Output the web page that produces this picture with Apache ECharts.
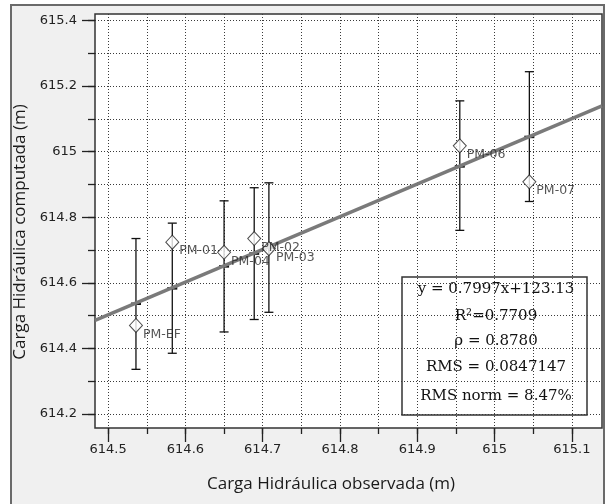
<!DOCTYPE html>
<html>
<head>
<meta charset="utf-8">
<script src="https://cdn.jsdelivr.net/npm/echarts@6/dist/echarts.min.js"></script>
<style>
  html, body { margin: 0; padding: 0; background: #ffffff; }
  #chart { width: 609px; height: 504px; }
</style>
</head>
<body>
<div id="chart"></div>
<script>
// 观测水头 vs 计算水头，带误差棒和 1:1 线

const wells = ['PM-EF', 'PM-01', 'PM-04', 'PM-02', 'PM-03', 'PM-06', 'PM-07'];
const observed = [614.536, 614.583, 614.650, 614.689, 614.708, 614.955, 615.045];
const computed = [614.470, 614.724, 614.693, 614.735, 614.704, 615.018, 614.908];
const errLow = [614.336, 614.385, 614.450, 614.488, 614.510, 614.760, 614.848];
const errHigh = [614.735, 614.782, 614.850, 614.890, 614.905, 615.155, 615.244];

// 1:1 线两端
const lineX = [614.483, 615.139];
const lineY = [614.485, 615.140];

// 刻度
const xMajor = [614.5, 614.6, 614.7, 614.8, 614.9, 615, 615.1];
const xMinor = [614.5, 614.55, 614.6, 614.65, 614.7, 614.75, 614.8, 614.85, 614.9, 614.95, 615, 615.05, 615.1];
const yMajor = [614.2, 614.4, 614.6, 614.8, 615, 615.2, 615.4];
const yMinor = [614.2, 614.3, 614.4, 614.5, 614.6, 614.7, 614.8, 614.9, 615, 615.1, 615.2, 615.3, 615.4];

const statsLines = [
    'y = 0.7997x+123.13',
    'R\u00B2=0.7709',
    '\u03C1 = 0.8780',
    'RMS = 0.0847147',
    'RMS norm = 8.47%'
];

const xMin = 614.483, xMax = 615.139;
const yMin = 614.157, yMax = 615.420;

function initChart() {
    const chart = echarts.init(document.getElementById('chart'));

    const gridLine = { color: '#3a3a3a', width: 1, type: [1, 2] };
    const labelStyle = { color: '#222', fontFamily: 'DejaVu Sans', fontSize: 13 };
    const titleStyle = { color: '#1a1a1a', fontFamily: 'Open Sans', fontSize: 17 };

    const errData = observed.map(function (x, i) {
        return [x, errLow[i], errHigh[i], observed[i]];
    });
    const pointData = observed.map(function (x, i) {
        return { name: wells[i], value: [x, computed[i]] };
    });

    const statsTexts = statsLines.map(function (t, i) {
        const ys = [289, 316, 341, 367, 396];
        return {
            type: 'text',
            x: 496,
            y: ys[i],
            style: {
                text: t,
                fill: '#111',
                font: '15px "DejaVu Serif"',
                textAlign: 'center',
                textVerticalAlign: 'middle'
            }
        };
    });

    const option = {
        backgroundColor: '#ffffff',
        animation: false,
        graphic: [
            {
                type: 'rect',
                z: -10,
                shape: { x: 11, y: 5, width: 593, height: 510 },
                style: { fill: '#f0f0f0', stroke: '#6a6a6a', lineWidth: 2 }
            },
            {
                type: 'group',
                z: 100,
                children: [
                    {
                        type: 'rect',
                        shape: { x: 402, y: 277, width: 185, height: 138 },
                        style: { fill: '#ffffff', stroke: '#333', lineWidth: 1.5 }
                    }
                ].concat(statsTexts)
            }
        ],
        grid: {
            left: 95,
            top: 14,
            width: 507,
            height: 414,
            show: true,
            backgroundColor: '#ffffff',
            borderColor: '#333',
            borderWidth: 1.5
        },
        xAxis: [
            {
                type: 'value',
                min: xMin,
                max: xMax,
                position: 'bottom',
                name: 'Carga Hidráulica observada (m)',
                nameLocation: 'middle',
                nameGap: 48,
                nameTextStyle: Object.assign({ padding: [0, 35, 0, 0] }, titleStyle),
                axisLine: { show: false },
                axisTick: { show: true, length: 14, customValues: xMajor, lineStyle: { color: '#222', width: 1.3 } },
                axisLabel: { customValues: xMajor, margin: 15, ...labelStyle },
                splitLine: { show: false }
            },
            {
                type: 'value',
                min: xMin,
                max: xMax,
                position: 'bottom',
                axisLine: { show: false },
                axisTick: { show: true, length: 6, customValues: xMinor, lineStyle: { color: '#222', width: 1.3 } },
                axisLabel: { show: false },
                splitLine: { show: true, lineStyle: gridLine }
            }
        ],
        yAxis: [
            {
                type: 'value',
                min: yMin,
                max: yMax,
                position: 'left',
                name: 'Carga Hidráulica computada (m)',
                nameLocation: 'middle',
                nameGap: 61,
                nameRotate: 90,
                nameTextStyle: Object.assign({ padding: [0, 22, 0, 0] }, titleStyle),
                axisLine: { show: false },
                axisTick: { show: true, length: 13, customValues: yMajor, lineStyle: { color: '#222', width: 1.3 } },
                axisLabel: { customValues: yMajor, margin: 18, ...labelStyle },
                splitLine: { show: false }
            },
            {
                type: 'value',
                min: yMin,
                max: yMax,
                position: 'left',
                axisLine: { show: false },
                axisTick: { show: true, length: 7, customValues: yMinor, lineStyle: { color: '#222', width: 1.3 } },
                axisLabel: { show: false },
                splitLine: { show: true, lineStyle: gridLine }
            }
        ],
        series: [
            {
                name: 'error',
                type: 'custom',
                xAxisIndex: 0,
                yAxisIndex: 0,
                z: 3,
                silent: true,
                data: errData,
                renderItem: function (params, api) {
                    const x = api.value(0);
                    const bot = api.coord([x, api.value(1)]);
                    const top = api.coord([x, api.value(2)]);
                    const mid = api.coord([x, api.value(3)]);
                    const cap = 4.5;
                    const st = { stroke: '#111', lineWidth: 1.3 };
                    return {
                        type: 'group',
                        children: [
                            { type: 'line', shape: { x1: top[0], y1: top[1], x2: bot[0], y2: bot[1] }, style: st },
                            { type: 'line', shape: { x1: top[0] - cap, y1: top[1], x2: top[0] + cap, y2: top[1] }, style: st },
                            { type: 'line', shape: { x1: bot[0] - cap, y1: bot[1], x2: bot[0] + cap, y2: bot[1] }, style: st },
                            { type: 'line', shape: { x1: mid[0] - 5, y1: mid[1], x2: mid[0] + 5, y2: mid[1] }, style: { stroke: '#111', lineWidth: 2.5 } }
                        ]
                    };
                }
            },
            {
                name: '1:1',
                type: 'line',
                xAxisIndex: 0,
                yAxisIndex: 0,
                z: 4,
                symbol: 'none',
                silent: true,
                lineStyle: { color: '#7a7a7a', width: 3.5 },
                data: [[lineX[0], lineY[0]], [lineX[1], lineY[1]]]
            },
            {
                name: 'wells',
                type: 'scatter',
                xAxisIndex: 0,
                yAxisIndex: 0,
                z: 5,
                symbol: 'diamond',
                symbolSize: [13, 14],
                itemStyle: { color: '#ffffff', borderColor: '#222', borderWidth: 1 },
                label: {
                    show: true,
                    position: 'right',
                    distance: 0,
                    offset: [0, 9],
                    formatter: '{b}',
                    color: '#2a2a2a',
                    fontFamily: 'DejaVu Sans',
                    fontSize: 12.5
                },
                data: pointData
            }
        ]
    };

    chart.setOption(option);
    return chart;
}

initChart();
</script>
</body>
</html>
